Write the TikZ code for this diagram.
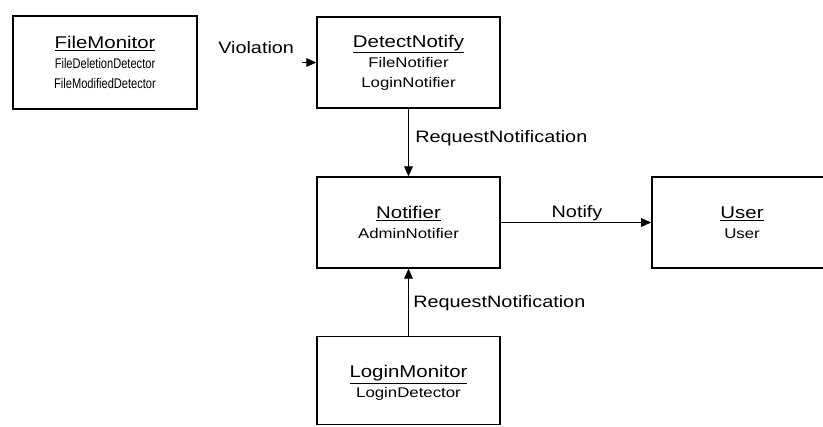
\documentclass[tikz,border=0pt]{standalone}
\usepackage{fontspec}
\setmainfont[FakeStretch=1.2]{Liberation Sans}
\usetikzlibrary{arrows.meta}
\begin{document}
\begin{tikzpicture}[x=0.75pt,y=-0.75pt,
  classbox/.style={draw, line width=1.3pt, minimum width=137pt, minimum height=68pt,
    align=center, inner sep=0pt, font=\fontsize{10.5}{15}\selectfont},
  lbl/.style={font=\fontsize{12.4}{14}\selectfont, inner sep=0pt},
  conn/.style={line width=0.8pt, -{Triangle[length=7.5pt,width=6.5pt]}}]
  \useasboundingbox (0,0) rectangle (823,426);
  \clip (0,0) rectangle (823,426);
  \fill[white] (0,0) rectangle (823,426);

  % classes
  \node[classbox, minimum width=138pt, minimum height=70pt] (fm) at (105,62.5)
    {{\fontsize{12.75}{15}\selectfont\underline{FileMonitor}}\\
     \scalebox{0.66}[1]{FileDeletionDetector}\\
     \scalebox{0.66}[1]{FileModifiedDetector}};
  \node[classbox] (dn) at (408.5,62.5)
    {{\fontsize{12.75}{15}\selectfont\underline{DetectNotify}}\\ FileNotifier\\ LoginNotifier};
  \node[classbox] (nt) at (408.5,222.5)
    {{\fontsize{12.75}{15}\selectfont\underline{Notifier}}\\ AdminNotifier};
  \node[classbox, minimum width=135pt] (us) at (742,222.5)
    {{\fontsize{12.75}{15}\selectfont\underline{User}}\\ User};
  \node[classbox, minimum height=66pt] (lm) at (408.5,380.5)
    {\rule{0pt}{13pt}{\fontsize{12.75}{15}\selectfont\underline{LoginMonitor}}\\ LoginDetector};

  % connectors
  \coordinate (vin) at (302,62.5);
  \draw[conn] (vin) -- (dn.west);
  \draw[conn] (dn.south) -- (nt.north);
  \draw[conn] (nt.east) -- (us.west);
  \draw[conn] (lm.north) -- (nt.south);

  % connector labels
  \node[lbl, anchor=west] (lviol) at (218,48) {Violation};
  \node[lbl, anchor=west] (lreq1) at (415,138) {RequestNotification};
  \node[lbl] (lnotify) at (577,213) {Notify};
  \node[lbl, anchor=west] (lreq2) at (413,303) {RequestNotification};
\end{tikzpicture}
\end{document}
